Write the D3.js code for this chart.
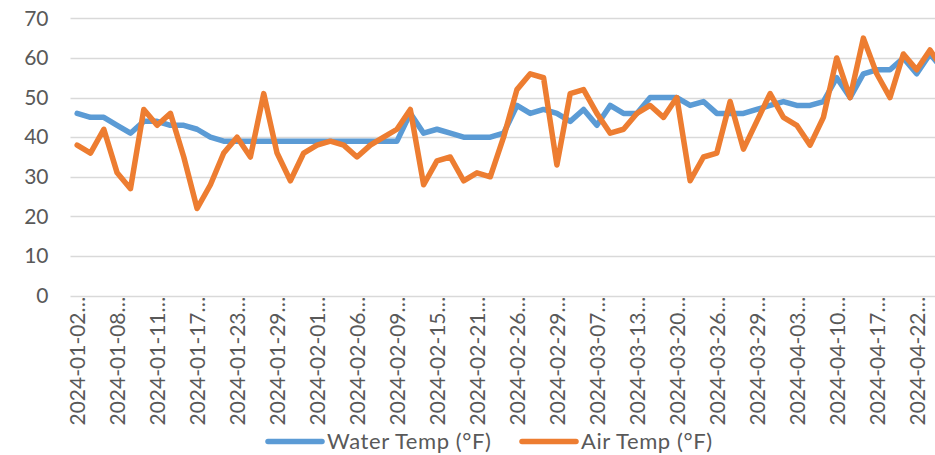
<!DOCTYPE html>
<html>
<head>
<meta charset="utf-8">
<script src="https://cdn.jsdelivr.net/npm/d3@7"></script>
<style>
  html, body { margin: 0; padding: 0; background: #fff; }
  svg { display: block; font-family: Lato, Carlito, Calibri, sans-serif; }
</style>
</head>
<body>
<svg width="935" height="455"></svg>
<script>
// Category dates (every third one is labelled on the axis)
const dates = [
  "2024-01-02","2024-01-03","2024-01-05","2024-01-08","2024-01-09","2024-01-10",
  "2024-01-11","2024-01-12","2024-01-16","2024-01-17","2024-01-18","2024-01-22",
  "2024-01-23","2024-01-24","2024-01-26","2024-01-29","2024-01-30","2024-01-31",
  "2024-02-01","2024-02-02","2024-02-05","2024-02-06","2024-02-07","2024-02-08",
  "2024-02-09","2024-02-13","2024-02-14","2024-02-15","2024-02-16","2024-02-20",
  "2024-02-21","2024-02-22","2024-02-23","2024-02-26","2024-02-27","2024-02-28",
  "2024-02-29","2024-03-04","2024-03-06","2024-03-07","2024-03-11","2024-03-12",
  "2024-03-13","2024-03-14","2024-03-18","2024-03-20","2024-03-21","2024-03-25",
  "2024-03-26","2024-03-27","2024-03-28","2024-03-29","2024-04-01","2024-04-02",
  "2024-04-03","2024-04-08","2024-04-09","2024-04-10","2024-04-15","2024-04-16",
  "2024-04-17","2024-04-18","2024-04-19","2024-04-22","2024-04-23","2024-04-24"
];

const waterTemp = [
  46,45,45,43,41,44,44,43,43,42,
  40,39,39,39,39,39,39,39,39,39,
  39,39,39,39,39,46,41,42,41,40,
  40,40,41,48,46,47,46,44,47,43,
  48,46,46,50,50,50,48,49,46,46,
  46,47,48,49,48,48,49,55,50,56,
  57,57,60,56,61,57
];

const airTemp = [
  38,36,42,31,27,47,43,46,35,22,
  28,36,40,35,51,36,29,36,38,39,
  38,35,38,40,42,47,28,34,35,29,
  31,30,40,52,56,55,33,51,52,46,
  41,42,46,48,45,50,29,35,36,49,
  37,44,51,45,43,38,45,60,50,65,
  56,50,61,57,62,57
];

const yTicks = [0, 10, 20, 30, 40, 50, 60, 70];

const seriesNames = ["Water Temp (°F)", "Air Temp (°F)"];
const seriesColors = ["#5b9bd5", "#ed7d31"];

const svg = d3.select("svg");

const plotLeft = 70.5;
const plotRight = 950;

let x = d3.scalePoint()
  .domain(dates)
  .range([plotLeft, plotRight])
  .padding(0.5);

let y = d3.scaleLinear()
  .domain([0, 70])
  .range([295.7, 18.3]);

// Gridlines
svg.append("g")
  .selectAll("line")
  .data(yTicks)
  .enter()
  .append("line")
  .attr("x1", plotLeft)
  .attr("x2", plotRight)
  .attr("y1", d => Math.round(y(d)) + 0.5)
  .attr("y2", d => Math.round(y(d)) + 0.5)
  .attr("stroke", "#d9d9d9")
  .attr("stroke-width", 1.3);

// Y axis labels
const yAxis = d3.axisLeft(y).tickValues(yTicks).tickSize(0).tickPadding(22);
svg.append("g")
  .attr("transform", `translate(${plotLeft},0)`)
  .call(yAxis)
  .call(g => g.select(".domain").remove())
  .selectAll("text")
  .attr("font-family", "Lato, Carlito, Calibri, sans-serif")
  .attr("font-size", 21)
  .attr("fill", "#595959");

// X axis labels, rotated, every third category
const xAxis = d3.axisBottom(x)
  .tickValues(dates.filter((d, i) => i % 3 === 0))
  .tickFormat(d => d + "…")
  .tickSize(0);

svg.append("g")
  .attr("transform", `translate(0,${y(0)})`)
  .call(xAxis)
  .call(g => g.select(".domain").remove())
  .selectAll("text")
  .attr("font-family", "Lato, Carlito, Calibri, sans-serif")
  .attr("font-size", 21)
  .attr("fill", "#595959")
  .attr("text-anchor", "end")
  .attr("transform", "rotate(-90)")
  .attr("x", -1)
  .attr("y", 0)
  .attr("dy", "0.36em");

// Series lines
const line = d3.line()
  .x((d, i) => x(dates[i]))
  .y(d => y(d));

[waterTemp, airTemp].forEach((series, k) => {
  svg.append("path")
    .datum(series)
    .attr("fill", "none")
    .attr("stroke", seriesColors[k])
    .attr("stroke-width", 5.5)
    .attr("stroke-linejoin", "round")
    .attr("stroke-linecap", "round")
    .attr("d", line);
});

// Legend
const legend = svg.append("g").attr("transform", "translate(0,441.5)");
const legendX = [268, 522];

seriesNames.forEach((name, k) => {
  let item = legend.append("g").attr("transform", `translate(${legendX[k]},0)`);
  item.append("line")
    .attr("x1", 0)
    .attr("x2", 54)
    .attr("stroke", seriesColors[k])
    .attr("stroke-width", 5.5)
    .attr("stroke-linecap", "round");
  item.append("text")
    .attr("x", 59)
    .attr("dy", "0.36em")
    .attr("font-size", 22)
    .attr("letter-spacing", 0.6)
    .attr("fill", "#595959")
    .text(name);
});
</script>
</body>
</html>
